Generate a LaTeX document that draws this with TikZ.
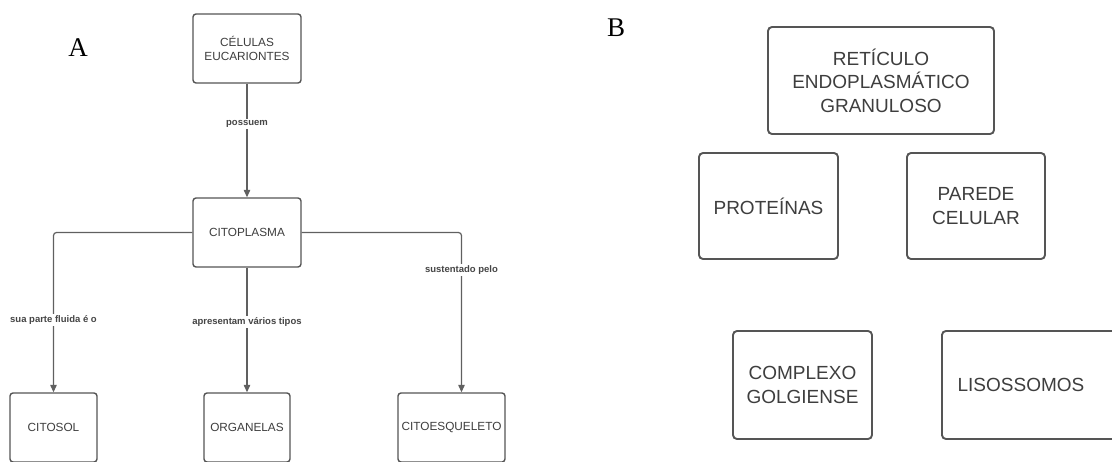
\documentclass[tikz,border=0pt]{standalone}
\usepackage{fontspec}
\setmainfont{Liberation Sans}
\newfontfamily\panelfont{Liberation Serif}
\usetikzlibrary{arrows.meta}
\definecolor{boxline}{HTML}{555555}
\definecolor{boxtext}{HTML}{3E3E3E}
\definecolor{edgeline}{HTML}{606060}
\definecolor{edgetext}{HTML}{454545}
\begin{document}
\begin{tikzpicture}[x=1pt,y=-1pt,
  abox/.style={draw=boxline, line width=1.4pt, rounded corners=3pt, fill=white,
    text=boxtext, align=center, inner sep=0pt,
    font=\fontsize{11.8}{14.5}\selectfont},
  bbox/.style={draw=boxline, line width=1.9pt, rounded corners=4pt, fill=white,
    text=boxtext, align=center, inner sep=0pt,
    font=\fontsize{19}{23.5}\selectfont},
  conn/.style={draw=edgeline, line width=1.2pt,
    -{Triangle[length=7.5pt,width=6.5pt]}},
  elabel/.style={fill=white, text=edgetext, inner sep=1.5pt,
    font=\bfseries\fontsize{9.5}{11}\selectfont},
  panel/.style={font=\panelfont\fontsize{27}{30}\selectfont, inner sep=0pt}
]
\useasboundingbox (0,0) rectangle (1112,461);
\clip (0,0) rectangle (1112,461);
\fill[white] (0,0) rectangle (1112,461);

% ---------- panel A: concept map ----------
\node[panel] (labA) at (78,48) {A};

\node[abox, minimum width=108pt, minimum height=69pt] (cel) at (247,48.5)
  {CÉLULAS\\EUCARIONTES};
\node[abox, minimum width=108pt, minimum height=69pt] (cito) at (247,232.5)
  {CITOPLASMA};
\node[abox, minimum width=87pt, minimum height=69pt] (citosol) at (53.5,427.5)
  {CITOSOL};
\node[abox, minimum width=86pt, minimum height=69pt] (organ) at (247,427.5)
  {ORGANELAS};
\node[abox, minimum width=107pt, minimum height=69pt] (citoesq) at (451.5,427.5)
  {CITOESQUELETO};

\coordinate (esqin) at ([xshift=10pt]citoesq.north);

\draw[conn] (cel.south) -- (cito.north);
\draw[conn, rounded corners=3pt] (cito.west) -| (citosol.north);
\draw[conn] (cito.south) -- (organ.north);
\draw[conn, rounded corners=3pt] (cito.east) -| (esqin);

\node[elabel] (lpos) at (247,124) {possuem};
\node[elabel] (lflu) at (53.5,320) {sua parte fluida é o};
\node[elabel] (lapr) at (247,322) {apresentam vários tipos};
\node[elabel] (lsus) at (461.5,270) {sustentado pelo};

% ---------- panel B: loose terms ----------
\node[panel] (labB) at (616,28) {B};

\node[bbox, minimum width=226pt, minimum height=107pt] (ret) at (881,80.5)
  {RETÍCULO\\ENDOPLASMÁTICO\\GRANULOSO};
\node[bbox, minimum width=139pt, minimum height=106pt] (prot) at (768.5,206)
  {PROTEÍNAS};
\node[bbox, minimum width=138pt, minimum height=106pt] (parede) at (976,206)
  {PAREDE\\CELULAR};
\node[bbox, minimum width=139pt, minimum height=108pt] (golgi) at (802.5,385)
  {COMPLEXO\\GOLGIENSE};
\node[bbox, minimum width=178pt, minimum height=108pt, anchor=west] (liso) at (941,385)
  {LISOSSOMOS\hspace*{20pt}};
\end{tikzpicture}
\end{document}
